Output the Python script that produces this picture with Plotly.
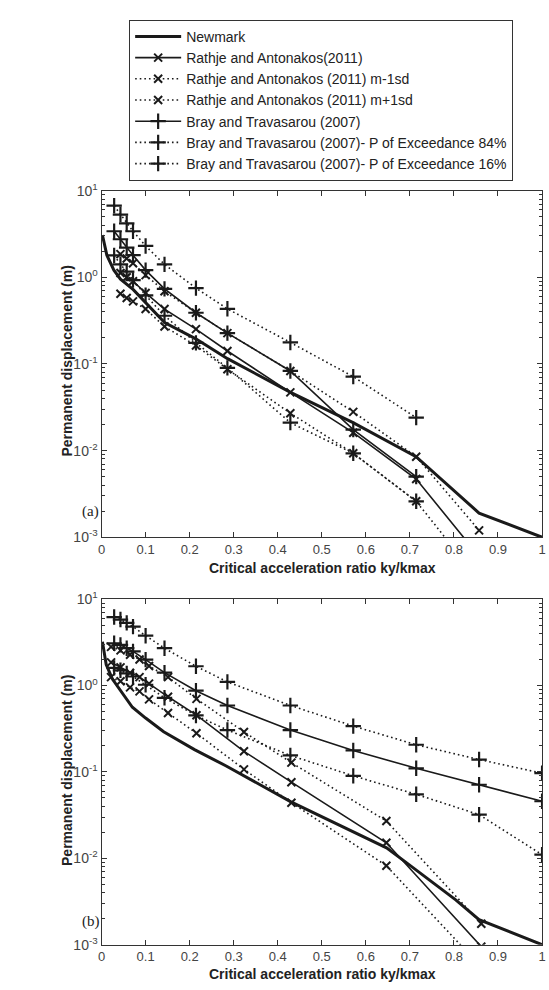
import plotly.graph_objects as go

W, H = 549, 990

# ---------------- data ----------------
# Bray & Travasarou grid (ky/kmax)
bt_x_a = [0.0286, 0.0429, 0.0571, 0.0714, 0.1, 0.1429, 0.2143, 0.2857, 0.4286, 0.5714, 0.7143]
bt84_a = [6.7, 5.3, 4.2, 3.4, 2.3, 1.41, 0.75, 0.433, 0.177, 0.0714, 0.024]
btmed_a = [3.4, 2.75, 2.2, 1.8, 1.21, 0.736, 0.39, 0.227, 0.083, 0.0175, 0.005]
bt16_a = [1.79, 1.41, 1.16, 0.93, 0.62, 0.36, 0.175, 0.09, 0.021, 0.0093, 0.0026]

ra_x_a = [0.0429, 0.0571, 0.0714, 0.1, 0.1429, 0.2143, 0.2857, 0.4286, 0.5714, 0.7143, 0.8571]
ramed_a = [1.12, 1.0, 0.9, 0.66, 0.43, 0.252, 0.141, 0.047, 0.0161, 0.0047, 0.0006]
ralo_a = [0.645, 0.577, 0.528, 0.43, 0.27, 0.163, 0.087, 0.027, 0.0093, 0.0026, 0.00032]
rahi_a = [1.85, 1.65, 1.45, 1.06, 0.69, 0.39, 0.227, 0.083, 0.028, 0.0085, 0.0012]

nm_x_a = [0.002, 0.012, 0.028, 0.043, 0.072, 0.1, 0.143, 0.214, 0.286, 0.429, 0.571, 0.714, 0.857, 1.0]
nm_a = [3.07, 1.8, 1.21, 0.95, 0.72, 0.51, 0.30, 0.195, 0.115, 0.047, 0.021, 0.0085, 0.0019, 0.001]

bt_x_b = [0.0286, 0.0429, 0.0571, 0.0714, 0.1, 0.1429, 0.2143, 0.2857, 0.4286, 0.5714, 0.7143, 0.8571, 1.0]
bt84_b = [6.2, 5.8, 5.3, 4.8, 3.77, 2.7, 1.67, 1.10, 0.587, 0.339, 0.206, 0.139, 0.0966]
btmed_b = [3.08, 2.95, 2.7, 2.48, 1.99, 1.41, 0.87, 0.587, 0.305, 0.177, 0.110, 0.071, 0.0457]
bt16_b = [1.6, 1.5, 1.38, 1.27, 1.02, 0.72, 0.45, 0.305, 0.155, 0.090, 0.055, 0.032, 0.011]

ra_x_b = [0.0216, 0.0431, 0.0647, 0.0862, 0.1078, 0.1509, 0.2155, 0.3233, 0.431, 0.6466, 0.8621]
ramed_b = [1.85, 1.62, 1.4, 1.25, 1.05, 0.74, 0.453, 0.173, 0.076, 0.0151, 0.00095]
ralo_b = [1.25, 1.12, 0.95, 0.855, 0.69, 0.48, 0.28, 0.107, 0.044, 0.0082, 0.00055]
rahi_b = [2.8, 2.55, 2.27, 2.0, 1.68, 1.25, 0.70, 0.29, 0.128, 0.027, 0.00175]

nm_x_b = [0.002, 0.0105, 0.025, 0.048, 0.07, 0.1, 0.141, 0.211, 0.283, 0.43, 0.647, 0.707, 0.804, 0.857, 1.0]
nm_b = [3.2, 1.75, 1.18, 0.80, 0.56, 0.42, 0.292, 0.181, 0.117, 0.045, 0.0132, 0.0078, 0.0033, 0.00195, 0.001]

x_ticks = [0, 0.1, 0.2, 0.3, 0.4, 0.5, 0.6, 0.7, 0.8, 0.9, 1]
x_ticktext = ["0", "0.1", "0.2", "0.3", "0.4", "0.5", "0.6", "0.7", "0.8", "0.9", "1"]
y_ticks = [0.001, 0.01, 0.1, 1, 10]
y_ticktext = ["10<sup>-3</sup>", "10<sup>-2</sup>", "10<sup>-1</sup>", "10<sup>0</sup>", "10<sup>1</sup>"]

names = ["Newmark", "Rathje and Antonakos(2011)", "Rathje and Antonakos (2011) m-1sd",
         "Rathje and Antonakos (2011) m+1sd", "Bray and Travasarou (2007)",
         "Bray and Travasarou (2007)- P of Exceedance 84%",
         "Bray and Travasarou (2007)- P of Exceedance 16%"]

# ---------------- figure ----------------
BLK = "#1a1a1a"
DOT = "1.6px,3px"
FONT = "Liberation Sans, Arial, sans-serif"
fig = go.Figure()


def add_panel(xa, ya, data, show):
    (nmx, nmy, rx, rmed, rlo, rhi, bx, bmed, b84, b16) = data
    common = dict(xaxis=xa, yaxis=ya, showlegend=show)
    xm = dict(symbol="x-thin", size=8, line=dict(color=BLK, width=2))
    cm = dict(symbol="cross-thin", size=11, line=dict(color=BLK, width=2.2))
    fig.add_trace(go.Scatter(x=nmx, y=nmy, mode="lines", name=names[0],
                             line=dict(color=BLK, width=3), **common))
    fig.add_trace(go.Scatter(x=rx, y=rmed, mode="lines+markers", name=names[1],
                             line=dict(color=BLK, width=1.6), marker=xm, **common))
    fig.add_trace(go.Scatter(x=rx, y=rlo, mode="lines+markers", name=names[2],
                             line=dict(color=BLK, width=1.6, dash=DOT), marker=xm, **common))
    fig.add_trace(go.Scatter(x=rx, y=rhi, mode="lines+markers", name=names[3],
                             line=dict(color=BLK, width=1.6, dash=DOT), marker=xm, **common))
    fig.add_trace(go.Scatter(x=bx, y=bmed, mode="lines+markers", name=names[4],
                             line=dict(color=BLK, width=1.6), marker=cm, **common))
    fig.add_trace(go.Scatter(x=bx, y=b84, mode="lines+markers", name=names[5],
                             line=dict(color=BLK, width=1.6, dash=DOT), marker=cm, **common))
    fig.add_trace(go.Scatter(x=bx, y=b16, mode="lines+markers", name=names[6],
                             line=dict(color=BLK, width=1.6, dash=DOT), marker=cm, **common))


add_panel("x", "y", (nm_x_a, nm_a, ra_x_a, ramed_a, ralo_a, rahi_a, bt_x_a, btmed_a, bt84_a, bt16_a), True)
add_panel("x2", "y2", (nm_x_b, nm_b, ra_x_b, ramed_b, ralo_b, rahi_b, bt_x_b, btmed_b, bt84_b, bt16_b), False)


def px(x):
    return x / W


def py(y):
    return 1 - y / H


minor_vals = [k * 10 ** e for e in range(-3, 1) for k in range(2, 10)]
tickfont_x = dict(family=FONT, size=13, color="#444")
tickfont_y = dict(family=FONT, size=14, color="#444")

xax = dict(range=[0, 1], tickvals=x_ticks, ticktext=x_ticktext, ticks="inside", ticklen=5,
           tickcolor="#333", showline=True, linecolor="#333", linewidth=1.2, mirror="ticks",
           showgrid=False, zeroline=False, tickfont=tickfont_x, ticklabeloverflow="allow")
yax = dict(type="log", range=[-3, 1], tickvals=y_ticks, ticktext=y_ticktext, ticks="inside",
           ticklen=5, tickcolor="#333", showline=True, linecolor="#333", linewidth=1.2,
           mirror="ticks", showgrid=False, zeroline=False, tickfont=tickfont_y,
           minor=dict(tickvals=minor_vals, ticks="inside", ticklen=3, tickcolor="#333"))

fig.update_layout(
    width=W, height=H, margin=dict(l=0, r=0, t=0, b=0),
    paper_bgcolor="white", plot_bgcolor="white",
    xaxis=dict(domain=[px(99), px(546)], anchor="y", **xax),
    yaxis=dict(domain=[py(537), py(184)], anchor="x", **yax),
    xaxis2=dict(domain=[px(99), px(546)], anchor="y2", **xax),
    yaxis2=dict(domain=[py(952), py(600)], anchor="x2", **yax),
    legend=dict(x=px(127), y=py(10), xanchor="left", yanchor="top",
                bordercolor="#333", borderwidth=1, bgcolor="white",
                font=dict(family=FONT, size=14, color="#222"),
                itemwidth=46, tracegroupgap=0),
    font=dict(family=FONT, color="#222"),
)

title_font = dict(family=FONT, size=14, color="#222")
ann = []
for yc in (568, 982):
    ann.append(dict(x=px(323), y=py(yc), xref="paper", yref="paper", showarrow=False,
                    text="<b>Critical acceleration ratio ky/kmax</b>", font=title_font,
                    xanchor="center", yanchor="middle"))
for yc in (358, 775):
    ann.append(dict(x=px(64), y=py(yc), xref="paper", yref="paper", showarrow=False,
                    text="<b>Permanent displacement (m)</b>", font=title_font, textangle=-90,
                    xanchor="center", yanchor="middle"))
for lab, yc in (("(a)", 511), ("(b)", 928)):
    ann.append(dict(x=px(88), y=py(yc), xref="paper", yref="paper", showarrow=False,
                    text=lab, font=dict(family="Liberation Serif, Times New Roman, serif", size=15, color="#222"),
                    xanchor="center", yanchor="middle"))
fig.update_layout(annotations=ann)

fig.write_html("out.html")
